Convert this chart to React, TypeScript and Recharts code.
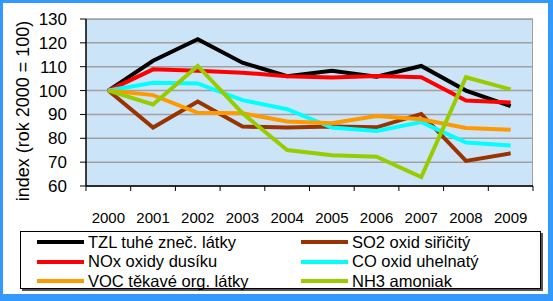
import { LineChart, Line, XAxis, YAxis, CartesianGrid } from 'recharts';

const years = ['2000', '2001', '2002', '2003', '2004', '2005', '2006', '2007', '2008', '2009'];

const tzl = [100, 112.5, 121.5, 111.7, 106, 108.3, 105.8, 110.3, 100, 93.5];
const so2 = [100, 84.5, 95.4, 84.9, 84.5, 84.9, 84.6, 90.2, 70.5, 73.7];
const nox = [100, 108.9, 108.3, 107.5, 106, 105.5, 106.1, 105.6, 95.8, 95];
const co = [100, 103.3, 103, 96, 92.2, 84.5, 83.1, 86.8, 78.2, 77];
const voc = [100, 98.1, 90.7, 90.5, 87, 86.3, 89.3, 88, 84.3, 83.6];
const nh3 = [100, 94.2, 110.3, 90.5, 75.1, 72.9, 72.3, 63.7, 105.6, 100.5];

const yTicks = [60, 70, 80, 90, 100, 110, 120, 130];

const series = [
  { key: 'tzl', name: 'TZL tuhé zneč. látky', color: '#000000' },
  { key: 'so2', name: 'SO2 oxid siřičitý', color: '#993300' },
  { key: 'nox', name: 'NOx oxidy dusíku', color: '#FF0000' },
  { key: 'co', name: 'CO oxid uhelnatý', color: '#00FFFF' },
  { key: 'voc', name: 'VOC těkavé org. látky', color: '#FF9900' },
  { key: 'nh3', name: 'NH3 amoniak', color: '#99CC00' },
];

const data = years.map((year, i) => ({
  year,
  tzl: tzl[i],
  so2: so2[i],
  nox: nox[i],
  co: co[i],
  voc: voc[i],
  nh3: nh3[i],
}));

// plot box in page pixels
const PLOT_LEFT = 86;
const PLOT_TOP = 19;
const PLOT_W = 447;
const PLOT_H = 167;
const half = PLOT_W / years.length / 2;
const font = 'Arial, "Liberation Sans", sans-serif';

function YearTick(props: any) {
  const { x, index, payload } = props;
  const axisY = PLOT_TOP + PLOT_H;
  return (
    <g>
      <line x1={x - half} x2={x - half} y1={axisY} y2={axisY + 5} stroke="#000" />
      {index === years.length - 1 && (
        <line x1={x + half} x2={x + half} y1={axisY} y2={axisY + 5} stroke="#000" />
      )}
      <text x={x} y={axisY + 37} textAnchor="middle" fontSize={15} fill="#000" fontFamily={font}>
        {payload.value}
      </text>
    </g>
  );
}

export default function App() {
  return (
    <div style={{ position: 'absolute', left: 0, top: 0, width: 553, height: 301, background: '#3399FF' }}>
      <div style={{ position: 'absolute', left: 3, top: 3, width: 545, height: 291, background: '#fff' }} />
      <div
        style={{
          position: 'absolute',
          left: PLOT_LEFT,
          top: PLOT_TOP,
          width: PLOT_W,
          height: PLOT_H,
          background: '#CCE4F8',
          boxSizing: 'border-box',
          borderTop: '1px solid #A0A0A0',
          borderRight: '1px solid #A0A0A0',
        }}
      />
      <div style={{ position: 'absolute', left: 0, top: 0 }}>
        <LineChart
          width={553}
          height={301}
          data={data}
          margin={{ top: PLOT_TOP, right: 553 - PLOT_LEFT - PLOT_W, left: 0, bottom: 85 }}
        >
          <CartesianGrid vertical={false} stroke="#A0A0A0" strokeWidth={1.5} />
          <XAxis
            dataKey="year"
            height={30}
            padding={{ left: half, right: half }}
            axisLine={{ stroke: '#000', strokeWidth: 1.5 }}
            tickLine={false}
            tick={<YearTick />}
            interval={0}
          />
          <YAxis
            width={PLOT_LEFT}
            domain={[60, 130]}
            ticks={yTicks}
            interval={0}
            axisLine={{ stroke: '#000', strokeWidth: 1.5 }}
            tickLine={{ stroke: '#000' }}
            tickSize={6}
            tickMargin={13}
            tick={{ fontSize: 17, fill: '#000', fontFamily: font }}
            label={{
              content: () => (
                <text
                  x={23}
                  y={111}
                  transform="rotate(-90 23 111)"
                  textAnchor="middle"
                  dominantBaseline="central"
                  fontSize={18}
                  fill="#000"
                  fontFamily={font}
                >
                  index (rok 2000 = 100)
                </text>
              ),
            }}
          />
          {series.map((s) => (
            <Line
              key={s.key}
              type="linear"
              dataKey={s.key}
              name={s.name}
              stroke={s.color}
              strokeWidth={4}
              dot={false}
              isAnimationActive={false}
            />
          ))}
        </LineChart>
      </div>
      <div
        style={{
          position: 'absolute',
          left: 20,
          top: 231,
          width: 521,
          height: 58,
          boxSizing: 'border-box',
          border: '1px solid #000',
          boxShadow: '2px 2px 0 #555',
          background: '#fff',
          fontFamily: font,
          fontSize: 16.5,
          color: '#000',
        }}
      >
        {series.map((s, i) => (
          <div
            key={s.key}
            style={{
              position: 'absolute',
              left: i % 2 === 0 ? 16 : 280,
              top: 0.5 + Math.floor(i / 2) * 19.5,
              height: 19,
              display: 'flex',
              alignItems: 'center',
              whiteSpace: 'nowrap',
            }}
          >
            <span style={{ display: 'inline-block', width: 47, height: 4, background: s.color, marginRight: 4 }} />
            <span>{s.name}</span>
          </div>
        ))}
      </div>
    </div>
  );
}
